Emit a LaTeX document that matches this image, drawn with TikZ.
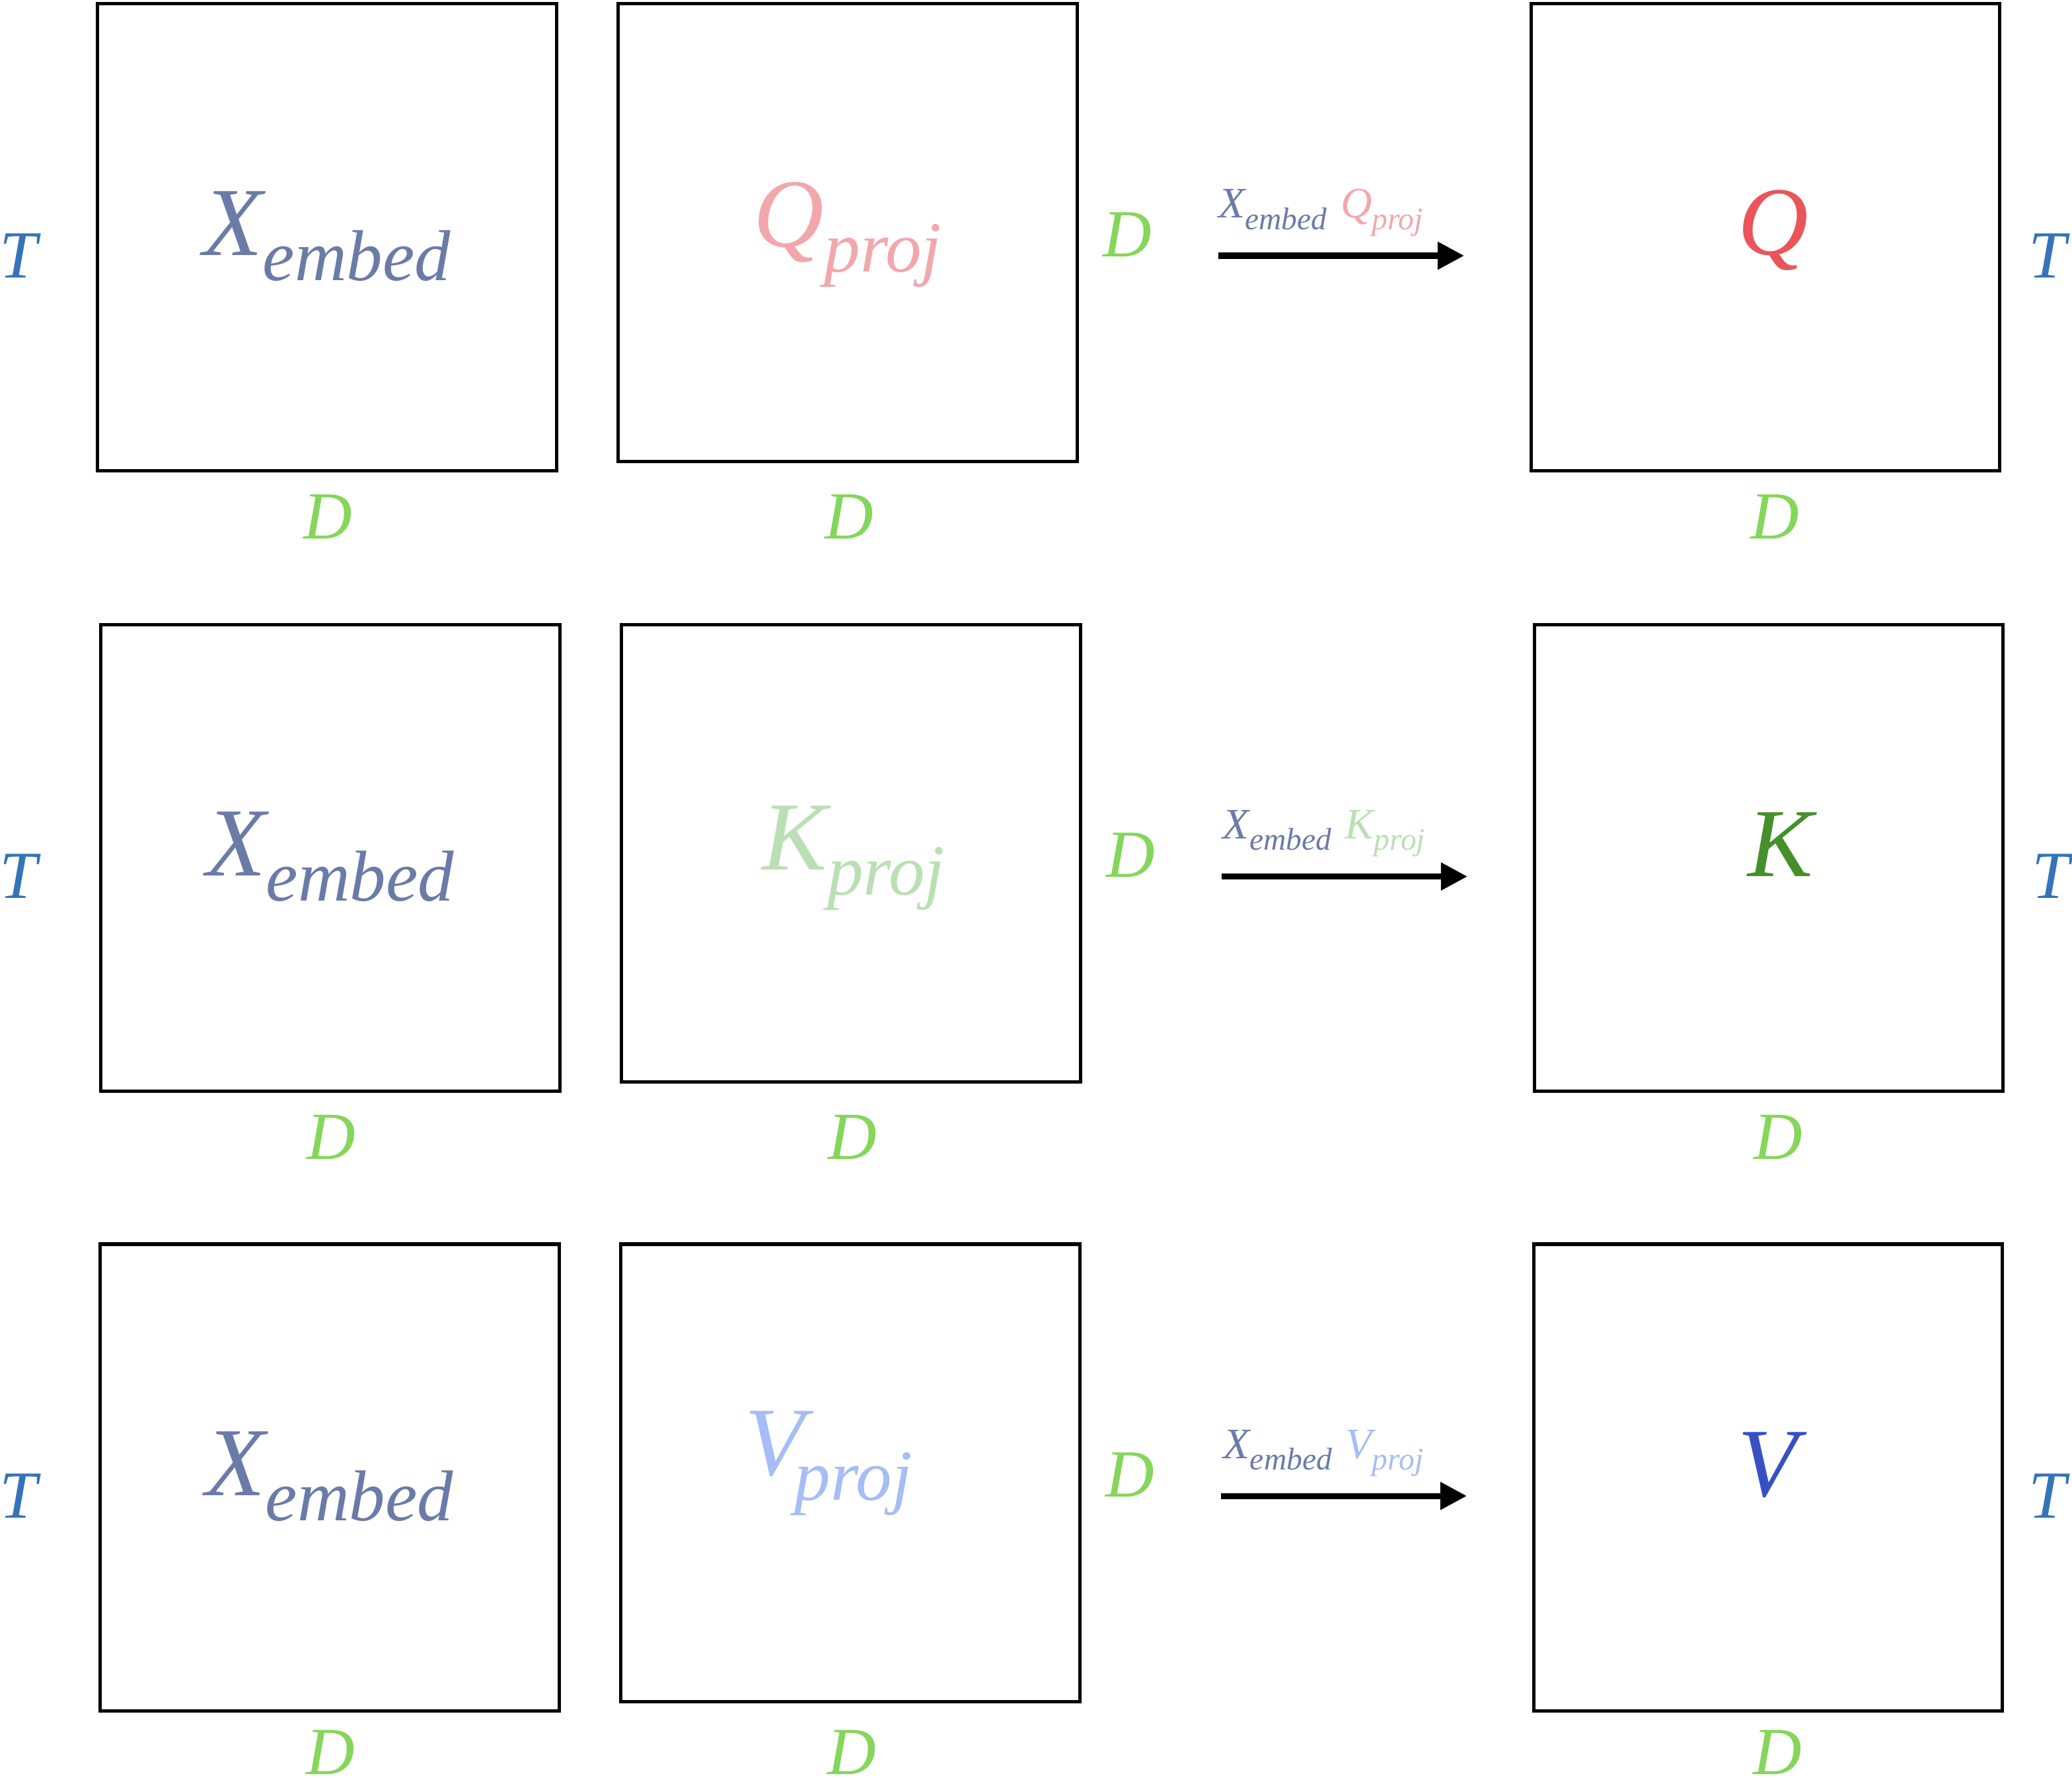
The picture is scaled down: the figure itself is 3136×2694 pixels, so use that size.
\documentclass[tikz,border=0pt]{standalone}
\usepackage{fontspec}
\setmainfont{Liberation Serif}
\usetikzlibrary{arrows.meta}

% letter with a lowered index, big (inside the boxes) and small (over the arrows)
\newcommand{\bigsub}[3][0cm]{{\fontsize{42}{42}\selectfont #2}\hspace{#1}\raisebox{-0.38cm}{\fontsize{31}{31}\selectfont #3}}
\newcommand{\smallsub}[2]{{\fontsize{18.7}{19}\selectfont #1}\raisebox{-0.17cm}{\fontsize{13.5}{14}\selectfont #2}}

\begin{document}
\begin{tikzpicture}[x=0.01cm,y=-0.01cm,
every node/.style={font=\itshape, inner sep=0pt},
mat/.style={draw=black, line width=1.5pt, minimum width=6.94cm, minimum height=7.06cm},
projmat/.style={mat, minimum height=6.92cm},
outmat/.style={mat, minimum width=7.08cm},
dimT/.style={text=tcolor, font=\itshape\fontsize{29}{29}\selectfont},
dimD/.style={text=dcolor, font=\itshape\fontsize{29}{29}\selectfont},
big/.style={anchor=base, font=\itshape\fontsize{42}{42}\selectfont},
flow/.style={line width=2.6pt, -{Triangle[length=11.4pt,width=11.4pt]}}]

% Define matrix colors
\definecolor{embedcolor}{HTML}{6B7BA8}
\definecolor{tcolor}{HTML}{3474B8}
\definecolor{dcolor}{HTML}{85D65A}
\definecolor{qprojcolor}{HTML}{F2A7AD}
\definecolor{qcolor}{HTML}{E95558}
\definecolor{kprojcolor}{HTML}{BBDFB4}
\definecolor{kcolor}{HTML}{45902B}
\definecolor{vprojcolor}{HTML}{A6BDF5}
\definecolor{vcolor}{HTML}{3751C4}

\useasboundingbox (0,0) rectangle (3136,2694);

% Query row
\begin{scope}
\node[mat] (xq) at (495,359) {};
\node[projmat] (pq) at (1283,352) {};
\node[outmat] (q) at (2672,359) {};
\node[big, text=embedcolor] (xqtext) at ([yshift=-0.27cm]xq.center) {\bigsub{X}{embed}};
\node[big, text=qprojcolor] (pqtext) at ([yshift=-0.21cm]pq.center) {\bigsub{Q}{proj}};
\node[big, text=qcolor] (qtext) at ([shift={(0.12cm,-0.26cm)}]q.center) {Q};
\node[dimT] (tq1) at (28,387) {T};
\node[dimT] (tq2) at (3099,387) {T};
\node[dimD] (dq1) at (496,782) {D};
\node[dimD] (dq2) at (1285,782) {D};
\node[dimD] (dq3) at (1706,355) {D};
\node[dimD] (dq4) at (2686,782) {D};
\coordinate (qa) at (1844,387);
\coordinate (qb) at (2216,387);
\draw[flow] (qa) -- (qb);
\node[anchor=base] (qlabel) at (1999,330) {\textcolor{embedcolor}{\smallsub{X}{embed}} \hspace{0.12cm}\textcolor{qprojcolor}{\smallsub{Q}{proj}}};
\end{scope}

% Key row
\begin{scope}[xshift=0.05cm, yshift=-9.39cm]
\node[mat] (xk) at (495,359) {};
\node[projmat] (pk) at (1283,352) {};
\node[outmat] (k) at (2672,359) {};
\node[big, text=embedcolor] (xktext) at ([yshift=-0.27cm]xk.center) {\bigsub{X}{embed}};
\node[big, text=kprojcolor] (pktext) at ([shift={(0.04cm,-0.25cm)}]pk.center) {\bigsub{K}{proj}};
\node[big, text=kcolor] (ktext) at ([shift={(0.18cm,-0.28cm)}]k.center) {K};
\node[dimT] (tk1) at (23,387) {T};
\node[dimT] (tk2) at (3099,387) {T};
\node[dimD] (dk1) at (496,782) {D};
\node[dimD] (dk2) at (1285,782) {D};
\node[dimD] (dk3) at (1706,355) {D};
\node[dimD] (dk4) at (2686,782) {D};
\coordinate (ka) at (1844,387);
\coordinate (kb) at (2216,387);
\draw[flow] (ka) -- (kb);
\node[anchor=base] (klabel) at (1999,330) {\textcolor{embedcolor}{\smallsub{X}{embed}} \hspace{0.12cm}\textcolor{kprojcolor}{\smallsub{K}{proj}}};
\end{scope}

% Value row
\begin{scope}[xshift=0.04cm, yshift=-18.76cm]
\node[mat] (xv) at (495,359) {};
\node[projmat] (pv) at (1283,352) {};
\node[outmat] (v) at (2672,359) {};
\node[big, text=embedcolor] (xvtext) at ([yshift=-0.27cm]xv.center) {\bigsub{X}{embed}};
\node[big, text=vprojcolor] (pvtext) at ([shift={(-0.33cm,-0.03cm)}]pv.center) {\bigsub[-0.15cm]{V}{proj}};
\node[big, text=vcolor] (vtext) at ([yshift=-0.28cm]v.center) {V};
\node[dimT] (tv1) at (24,387) {T};
\node[dimT] (tv2) at (3095,387) {T};
\node[dimD] (dv1) at (496,775) {D};
\node[dimD] (dv2) at (1285,775) {D};
\node[dimD] (dv3) at (1706,355) {D};
\node[dimD] (dv4) at (2686,775) {D};
\coordinate (va) at (1844,387);
\coordinate (vb) at (2216,387);
\draw[flow] (va) -- (vb);
\node[anchor=base] (vlabel) at (1999,330) {\textcolor{embedcolor}{\smallsub{X}{embed}} \hspace{0.12cm}\textcolor{vprojcolor}{\smallsub{V}{proj}}};
\end{scope}
\end{tikzpicture}
\end{document}
